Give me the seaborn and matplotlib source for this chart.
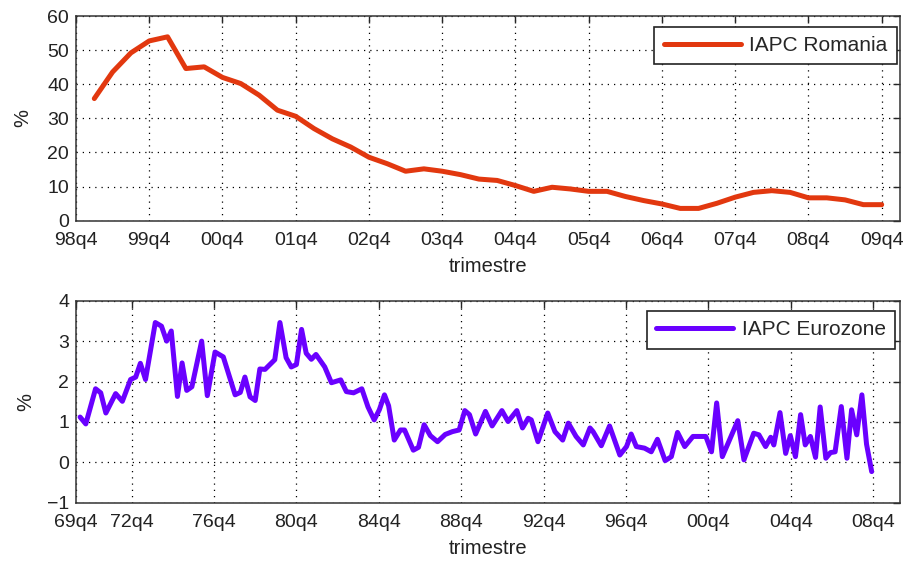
import pandas as pd
import seaborn as sns
import matplotlib
matplotlib.use("Agg")
import matplotlib.pyplot as plt

# IAPC Romania, trimestre 99q1..09q4 (0 = 98q4)
ro_trim = list(range(1, 45))
ro_iapc = [35.8, 43.6, 49.2, 52.7, 53.9, 44.6, 45.1, 42.0, 40.2, 36.8,
           32.4, 30.6, 27.0, 24.0, 21.6, 18.6, 16.7, 14.5, 15.2, 14.5,
           13.5, 12.2, 11.8, 10.3, 8.6, 9.8, 9.3, 8.6, 8.6, 7.1,
           5.9, 4.9, 3.6, 3.6, 5.1, 6.9, 8.3, 8.8, 8.3, 6.7,
           6.7, 6.1, 4.7, 4.7]
ro_ticks = list(range(0, 45, 4))
ro_labels = ['98q4', '99q4', '00q4', '01q4', '02q4', '03q4',
             '04q4', '05q4', '06q4', '07q4', '08q4', '09q4']

# IAPC Eurozone, trimestre (0 = primul punct, 154 = 08q4)
eu_trim = [0, 1.1, 3.0, 4.0, 5.0, 6.9, 8.2, 9.8, 10.8, 11.7,
           12.7, 14.6, 15.8, 16.8, 17.7, 18.9, 19.8, 20.7, 21.7, 23.6,
           24.7, 26.2, 27.8, 30.1, 31.1, 32.0, 33.0, 34.0, 34.9, 35.9,
           37.8, 38.8, 40.0, 41.0, 42.0, 43.0, 43.9, 44.9, 45.8, 47.5,
           48.8, 50.6, 51.7, 53.1, 54.7, 55.9, 57.1, 58.1, 59.1, 59.9,
           61.0, 62.2, 63.0, 64.7, 65.7, 66.8, 68.0, 69.4, 70.9, 72.3,
           73.6, 74.7, 75.6, 76.8, 78.7, 80.0, 81.9, 83.1, 84.8, 85.9,
           87.0, 87.6, 88.9, 90.8, 92.2, 93.7, 94.8, 96.3, 97.7, 99.0,
           99.6, 101.2, 102.8, 104.8, 106.1, 107.0, 108.0, 109.6, 110.9, 112.1,
           113.6, 114.8, 116.0, 117.4, 119.0, 121.5, 122.6, 123.6, 124.7, 127.7,
           128.9, 130.8, 131.8, 133.1, 134.1, 134.7, 135.9, 137.0, 137.9, 138.9,
           139.9, 140.8, 141.8, 142.8, 143.7, 144.8, 145.7, 146.6, 147.8, 148.9,
           149.8, 150.8, 151.8, 152.7, 153.7]
eu_iapc = [1.12, 0.95, 1.82, 1.72, 1.22, 1.70, 1.51, 2.05, 2.11, 2.45,
           2.05, 3.46, 3.37, 3.00, 3.25, 1.63, 2.46, 1.78, 1.87, 3.00,
           1.65, 2.73, 2.61, 1.67, 1.73, 2.11, 1.62, 1.53, 2.31, 2.30,
           2.54, 3.46, 2.59, 2.36, 2.42, 3.29, 2.70, 2.55, 2.67, 2.36,
           1.97, 2.04, 1.75, 1.72, 1.82, 1.37, 1.05, 1.30, 1.67, 1.40,
           0.55, 0.80, 0.80, 0.30, 0.37, 0.93, 0.66, 0.51, 0.69, 0.76,
           0.80, 1.28, 1.18, 0.70, 1.26, 0.90, 1.28, 1.01, 1.28, 0.85,
           1.09, 1.05, 0.51, 1.22, 0.76, 0.55, 0.97, 0.64, 0.43, 0.85,
           0.76, 0.41, 0.90, 0.18, 0.39, 0.70, 0.39, 0.35, 0.26, 0.57,
           0.04, 0.14, 0.74, 0.39, 0.64, 0.64, 0.26, 1.47, 0.14, 1.03,
           0.06, 0.72, 0.68, 0.39, 0.62, 0.43, 1.23, 0.22, 0.66, 0.14,
           1.18, 0.43, 0.64, 0.12, 1.37, 0.10, 0.24, 0.26, 1.38, 0.10,
           1.30, 0.68, 1.67, 0.45, -0.23]
eu_ticks = [-0.8, 10, 26, 42, 58, 74, 90, 106, 122, 138, 154]
eu_labels = ['69q4', '72q4', '76q4', '80q4', '84q4', '88q4',
             '92q4', '96q4', '00q4', '04q4', '08q4']

df_ro = pd.DataFrame({'trimestre': ro_trim, 'IAPC': ro_iapc})
df_eu = pd.DataFrame({'trimestre': eu_trim, 'IAPC': eu_iapc})

sns.set_style("white")
plt.rcParams['font.family'] = ['Liberation Sans', 'DejaVu Sans']

fig = plt.figure(figsize=(9.09, 5.64), dpi=100)
ax1 = fig.add_axes([0.0836, 0.6087, 0.9065, 0.3629])
ax2 = fig.add_axes([0.0836, 0.1087, 0.9065, 0.3581])

sns.lineplot(data=df_ro, x='trimestre', y='IAPC', ax=ax1, color='#E2380F',
             lw=3.6, label='IAPC Romania')
sns.lineplot(data=df_eu, x='trimestre', y='IAPC', ax=ax2, color='#6A00FF',
             lw=3.6, label='IAPC Eurozone')

def stil(ax, ticks, labels, xlim, ylim, yticks, lab_x, leg_anchor):
    ax.set_xlim(*xlim)
    ax.set_ylim(*ylim)
    ax.set_xticks(ticks)
    ax.set_xticklabels(labels)
    ax.set_yticks(yticks)
    ax.set_axisbelow(True)
    ax.grid(True, color='black', linestyle=(0, (1, 4)), linewidth=0.9)
    ax.tick_params(direction='in', length=5, width=1, top=True, right=True,
                   labelsize=14, pad=5, labelcolor='#222222')
    ax.tick_params(axis='x', pad=8)
    for s in ax.spines.values():
        s.set_visible(True)
        s.set_color('#333333')
        s.set_linewidth(1.1)
    ax.set_xlabel('trimestre', fontsize=14.5, labelpad=6, color='#222222')
    ax.set_ylabel('%', fontsize=14.5, color='#222222')
    ax.yaxis.set_label_coords(lab_x, 0.5)
    leg = ax.legend(loc='upper right', bbox_to_anchor=leg_anchor,
                    borderaxespad=0, fontsize=15, handlelength=3.7,
                    handletextpad=0.4, borderpad=0.45, fancybox=False,
                    framealpha=1, edgecolor='#222222')
    leg.get_frame().set_linewidth(1.2)

stil(ax1, ro_ticks, ro_labels, (0, 45), (0, 60), range(0, 61, 10),
     -0.053, (0.996, 0.948))
stil(ax2, eu_ticks, eu_labels, (-0.8, 159.2), (-1, 4), range(-1, 5),
     -0.050, (0.994, 0.949))

fig.savefig('out.png', dpi=100)
